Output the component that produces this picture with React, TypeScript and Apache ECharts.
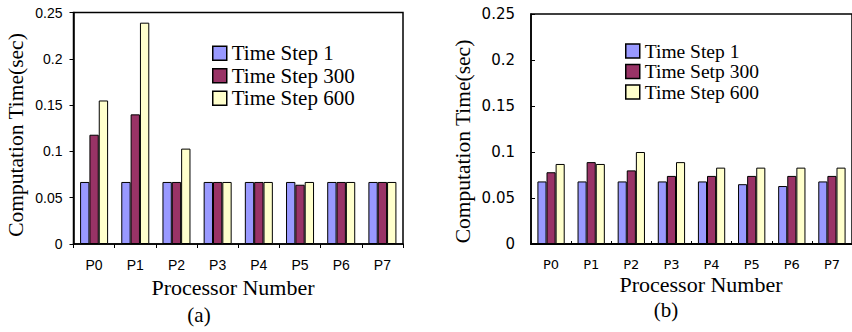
import React, { useEffect, useRef } from "react";
import * as echarts from "echarts";

const categories = ["P0", "P1", "P2", "P3", "P4", "P5", "P6", "P7"];
const yTickLabels = ["0", "0.05", "0.1", "0.15", "0.2", "0.25"];

// Chart (a)
const aStep1 = [0.067, 0.067, 0.067, 0.067, 0.067, 0.067, 0.067, 0.067];
const aStep300 = [0.118, 0.14, 0.067, 0.067, 0.067, 0.064, 0.067, 0.067];
const aStep600 = [0.155, 0.239, 0.103, 0.067, 0.067, 0.067, 0.067, 0.067];
const aNames = ["Time Step 1", "Time Step 300", "Time Step 600"];

// Chart (b)
const bStep1 = [0.068, 0.068, 0.068, 0.068, 0.068, 0.065, 0.063, 0.068];
const bStep300 = [0.078, 0.089, 0.08, 0.074, 0.074, 0.074, 0.074, 0.074];
const bStep600 = [0.087, 0.087, 0.1, 0.089, 0.083, 0.083, 0.083, 0.083];
const bNames = ["Time Step 1", "Time Setp 300", "Time Step 600"];

const colors = ["#9999FF", "#993366", "#FFFFCC"];
const SERIF = "Liberation Serif";

export default function App() {
  const ref = useRef<HTMLDivElement>(null);
  useEffect(() => {
    if (!ref.current) return;
    const chart = echarts.init(ref.current, undefined, { renderer: "svg" });

    const barSeries = (name: string, data: number[], idx: number, color: string) => ({
      type: "bar",
      name,
      data,
      xAxisIndex: idx,
      yAxisIndex: idx,
      barGap: "0%",
      barCategoryGap: "32%",
      itemStyle: { color, borderColor: "#000", borderWidth: 1 },
    });

    chart.setOption({
      animation: false,
      grid: [
        { left: 73.5, top: 12.5, width: 329.5, height: 231.5, show: true, borderColor: "#000", borderWidth: 1.5, containLabel: false },
        { left: 531, top: 14, width: 324, height: 230, show: true, borderColor: "#000", borderWidth: 1.5, containLabel: false },
      ],
      xAxis: [
        {
          type: "category", gridIndex: 0, data: categories,
          axisLine: { lineStyle: { color: "#000", width: 1.5 } },
          axisTick: { show: true, inside: false, length: 4, lineStyle: { color: "#000", width: 1 } },
          axisLabel: { color: "#000", fontFamily: "Liberation Sans", fontSize: 14, margin: 14 },
        },
        {
          type: "category", gridIndex: 1, data: categories,
          axisLine: { lineStyle: { color: "#000", width: 2 } },
          axisTick: { show: true, inside: true, length: 3, lineStyle: { color: "#000", width: 1 } },
          axisLabel: { color: "#000", fontFamily: "DejaVu Sans", fontSize: 13, margin: 14 },
        },
      ],
      yAxis: [
        {
          type: "value", gridIndex: 0, min: 0, max: 0.25, interval: 0.05,
          splitLine: { show: false },
          axisLine: { show: true, lineStyle: { color: "#000", width: 1.5 } },
          axisTick: { show: true, inside: false, length: 4, lineStyle: { color: "#000", width: 1 } },
          axisLabel: {
            color: "#000", fontFamily: "Liberation Sans", fontSize: 14, margin: 11,
            formatter: (_v: number, i: number) => yTickLabels[i],
          },
        },
        {
          type: "value", gridIndex: 1, min: 0, max: 0.25, interval: 0.05,
          splitLine: { show: false },
          axisLine: { show: true, lineStyle: { color: "#000", width: 1.5 } },
          axisTick: { show: true, inside: true, length: 4, lineStyle: { color: "#000", width: 1 } },
          axisLabel: {
            color: "#000", fontFamily: "DejaVu Sans", fontSize: 15, margin: 16,
            formatter: (_v: number, i: number) => yTickLabels[i],
          },
        },
      ],
      legend: [
        {
          data: aNames, orient: "vertical", left: 212, top: 42,
          itemWidth: 14, itemHeight: 14, itemGap: 0, padding: 0,
          icon: "rect",
          itemStyle: { borderColor: "#000", borderWidth: 1.5 },
          textStyle: { fontFamily: SERIF, fontSize: 21, lineHeight: 22.5, color: "#000" },
        },
        {
          data: bNames, orient: "vertical", left: 625, top: 41,
          itemWidth: 14, itemHeight: 14, itemGap: 0.5, padding: 0,
          icon: "rect",
          itemStyle: { borderColor: "#000", borderWidth: 1.5 },
          textStyle: { fontFamily: SERIF, fontSize: 19.5, lineHeight: 19.5, color: "#000" },
        },
      ],
      series: [
        barSeries(aNames[0], aStep1, 0, colors[0]),
        barSeries(aNames[1], aStep300, 0, colors[1]),
        barSeries(aNames[2], aStep600, 0, colors[2]),
        barSeries(bNames[0], bStep1, 1, colors[0]),
        barSeries(bNames[1], bStep300, 1, colors[1]),
        barSeries(bNames[2], bStep600, 1, colors[2]),
      ],
      graphic: [
        { type: "text", x: 16, y: 135, rotation: Math.PI / 2, style: { text: "Computation Time(sec)", fontFamily: SERIF, fontSize: 21.5, fill: "#000", align: "center", verticalAlign: "middle" } },
        { type: "text", x: 233, y: 287, style: { text: "Processor Number", fontFamily: SERIF, fontSize: 22, fill: "#000", align: "center", verticalAlign: "middle" } },
        { type: "text", x: 199, y: 315, style: { text: "(a)", fontFamily: SERIF, fontSize: 21, fill: "#000", align: "center", verticalAlign: "middle" } },
        { type: "text", x: 463, y: 141.5, rotation: Math.PI / 2, style: { text: "Computation Time(sec)", fontFamily: SERIF, fontSize: 21.5, fill: "#000", align: "center", verticalAlign: "middle" } },
        { type: "text", x: 701, y: 284.5, style: { text: "Processor Number", fontFamily: SERIF, fontSize: 22, fill: "#000", align: "center", verticalAlign: "middle" } },
        { type: "text", x: 666, y: 310, style: { text: "(b)", fontFamily: SERIF, fontSize: 21, fill: "#000", align: "center", verticalAlign: "middle" } },
      ],
    });
    return () => chart.dispose();
  }, []);
  return (
    <div
      ref={ref}
      style={{ position: "absolute", left: 0, top: 0, width: 852, height: 332, background: "#fff" }}
    />
  );
}
